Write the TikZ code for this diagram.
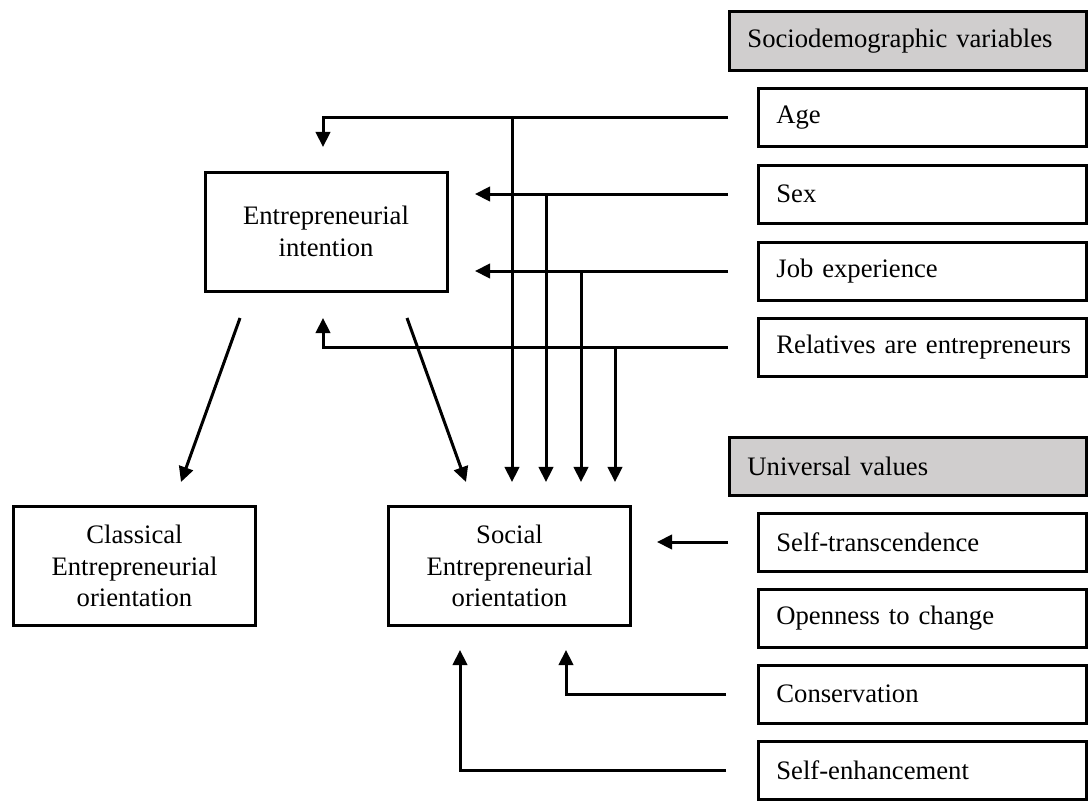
\documentclass[tikz,border=0pt]{standalone}
\usepackage{fontspec}
\setmainfont{Liberation Serif}
\usetikzlibrary{arrows.meta}
\definecolor{hdrgray}{RGB}{208,206,206}

\begin{document}
\begin{tikzpicture}[x=0.45pt, y=-0.45pt,
        every node/.style={font=\fontsize{12}{14.2}\selectfont},
        box/.style={draw, line width=1.35pt, minimum width=108.9pt, minimum height=53.55pt, inner sep=0pt, align=center},
        varbox/.style={draw, line width=1.35pt, minimum height=26.1pt, text width=131.5pt, inner xsep=8pt, inner ysep=0pt, align=left},
        headbox/.style={varbox, fill=hdrgray, minimum height=26.5pt, text width=144.5pt},
        conn/.style={line width=1.35pt, -{Triangle[length=6.8pt,width=6.5pt]}}]
            \useasboundingbox (0,0) rectangle (1090,801);

            % outcome boxes
            \node[box] (ei) at (326,231.5) {Entrepreneurial\\intention};
            \node[box] (ceo) at (134.5,566) {Classical\\Entrepreneurial\\orientation};
            \node[box] (seo) at (509.5,566) {Social\\Entrepreneurial\\orientation};

            % sociodemographic variables
            \node[headbox] (sdv) at (908,41) {Sociodemographic variables};
            \node[varbox] (age) at (922.5,117.5) {Age};
            \node[varbox] (sex) at (922.5,194) {Sex};
            \node[varbox] (job) at (922.5,271) {Job experience};
            \node[varbox] (rel) at (922.5,347.5) {\mbox{Relatives are entrepreneurs}};

            % universal values
            \node[headbox] (uv) at (908,466.5) {Universal values};
            \node[varbox] (st) at (922.5,542) {Self-transcendence};
            \node[varbox] (oc) at (922.5,618) {Openness to change};
            \node[varbox] (cons) at (922.5,694) {Conservation};
            \node[varbox] (se) at (922.5,770) {Self-enhancement};

            % free ends of the connectors
            \coordinate (age-in) at (728,117.5);
            \coordinate (sex-in) at (728,194);
            \coordinate (job-in) at (728,271);
            \coordinate (rel-in) at (728,347.5);
            \coordinate (st-in) at (728,542);
            \coordinate (cons-in) at (726,694);
            \coordinate (se-in) at (726,770);
            \coordinate (ei-age) at (323,147);
            \coordinate (ei-sex) at (475,194);
            \coordinate (ei-job) at (475,271);
            \coordinate (ei-rel) at (323,318);
            \coordinate (ei-l) at (240,318);
            \coordinate (ei-r) at (407,318);
            \coordinate (ceo-t) at (181,482);
            \coordinate (seo-t) at (466,482);
            \coordinate (seo-a) at (512,482);
            \coordinate (seo-b) at (546,482);
            \coordinate (seo-c) at (581,482);
            \coordinate (seo-d) at (615,482);
            \coordinate (seo-st) at (657,542);
            \coordinate (seo-cons) at (566,650);
            \coordinate (seo-se) at (460,650);

            % sociodemographic paths
            \draw[conn] (age-in) -| (ei-age);
            \draw[conn] (sex-in) -- (ei-sex);
            \draw[conn] (job-in) -- (ei-job);
            \draw[conn] (rel-in) -| (ei-rel);
            \draw[conn] (age-in -| seo-a) -- (seo-a);
            \draw[conn] (sex-in -| seo-b) -- (seo-b);
            \draw[conn] (job-in -| seo-c) -- (seo-c);
            \draw[conn] (rel-in -| seo-d) -- (seo-d);

            % intention paths
            \draw[conn] (ei-l) -- (ceo-t);
            \draw[conn] (ei-r) -- (seo-t);

            % value paths
            \draw[conn] (st-in) -- (seo-st);
            \draw[conn] (cons-in) -| (seo-cons);
            \draw[conn] (se-in) -| (seo-se);

        \end{tikzpicture}
\end{document}
